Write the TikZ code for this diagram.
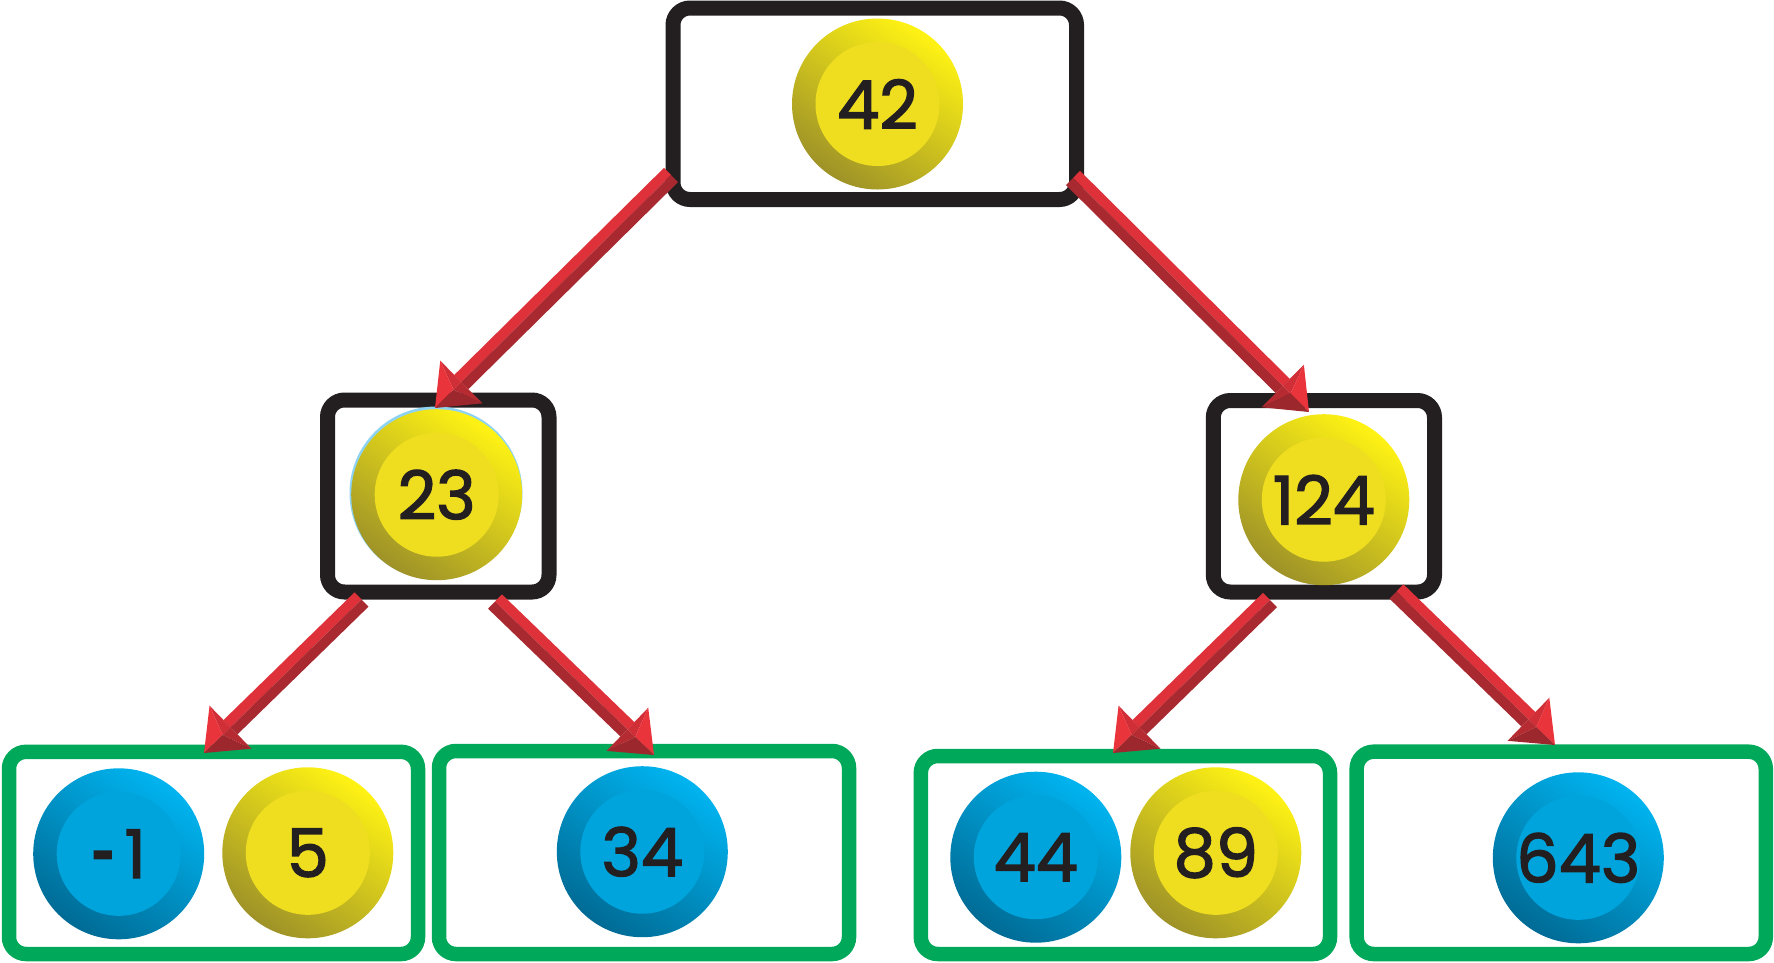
\documentclass[tikz,border=0pt]{standalone}
\usepackage{fontspec}
\setmainfont{Poppins}
\usetikzlibrary{calc}
\definecolor{boxblack}{HTML}{231F20}
\definecolor{boxgreen}{HTML}{00A859}
\definecolor{yTop}{HTML}{FFF314}
\definecolor{yBot}{HTML}{9E9228}
\definecolor{yIn}{HTML}{EFDE20}
\definecolor{bTop}{HTML}{00B4F0}
\definecolor{bBot}{HTML}{006B95}
\definecolor{bIn}{HTML}{00A4DC}
\definecolor{halo}{HTML}{8ED4F2}
\definecolor{arLight}{HTML}{DE3139}
\definecolor{arDark}{HTML}{A8292F}
\definecolor{hdA}{HTML}{EA343C}
\definecolor{hdB}{HTML}{9C272C}
\definecolor{hdC}{HTML}{D12F37}
\definecolor{hdD}{HTML}{B52B31}
\newcommand\redarrow[4]{% #1 tail, #2 tip, #3 light side angle, #4 dark side angle
  \coordinate (arN) at ($(#2)!37pt!(#1)$);
  \coordinate (arA) at ($(#2)!26pt!(#1)$);
  \fill[arLight] (#1) -- ($(#1)!10pt!#3:(#2)$) -- ($(arN)!10pt!#3:(#2)$) -- (arN) -- cycle;
  \fill[arDark] (#1) -- ($(#1)!10pt!#4:(#2)$) -- ($(arN)!10pt!#4:(#2)$) -- (arN) -- cycle;
  \fill[hdC] ($(arN)!30pt!#3:(#2)$) -- (arA) -- (arN) -- cycle;
  \fill[hdD] ($(arN)!30pt!#4:(#2)$) -- (arA) -- (arN) -- cycle;
  \fill[hdA] ($(arN)!30pt!#3:(#2)$) -- (arA) -- (#2) -- cycle;
  \fill[hdB] ($(arN)!30pt!#4:(#2)$) -- (arA) -- (#2) -- cycle;
}
\begin{document}
\begin{tikzpicture}[x=1pt,y=-1pt,
  blackbox/.style={draw=boxblack, line width=15pt, rounded corners=17pt, inner sep=0pt, fill=white},
  greenbox/.style={draw=boxgreen, line width=14.5pt, rounded corners=17pt, inner sep=0pt, fill=white},
  ballbase/.style={circle, inner sep=0pt, minimum size=171pt, text=boxblack,
    font=\fontsize{67}{67}\selectfont\addfontfeature{FakeBold=2}},
  yball/.style={ballbase, top color=yTop, bottom color=yBot, shading angle=-35,
    path picture={\fill[yIn] (path picture bounding box.center) circle (62pt);}},
  bball/.style={ballbase, top color=bTop, bottom color=bBot, shading angle=-35,
    path picture={\fill[bIn] (path picture bounding box.center) circle (62pt);}},
]
\useasboundingbox (0,0) rectangle (1774,962);
% boxes
\node[blackbox, minimum width=403.5pt, minimum height=191.5pt] (root) at (874.75,103.75) {};
\node[blackbox, minimum width=221.5pt, minimum height=192pt] (left) at (438.25,496) {};
\node[blackbox, minimum width=221.2pt, minimum height=191.5pt] (right) at (1323.9,496.25) {};
\node[greenbox, minimum width=409pt, minimum height=202.2pt] (leafa) at (213.5,852.9) {};
\node[greenbox, minimum width=410pt, minimum height=203pt] (leafb) at (644,852.5) {};
\node[greenbox, minimum width=409.2pt, minimum height=198pt] (leafc) at (1125.4,855) {};
\node[greenbox, minimum width=409.1pt, minimum height=202.3pt] (leafd) at (1561.2,852.85) {};
% balls
\node[yball] (k42) at (877.5,104) {42};
\node[circle, fill=halo, minimum size=173pt, inner sep=0pt] (h23) at (436,493) {};
\node[yball] (k23) at (436.7,494.7) {23};
\node[yball] (k124) at (1323.8,499.7) {124};
\node[bball] (km1) at (118.7,853.8) {\smash{\raisebox{-10pt}{\scalebox{0.65}[1.35]{-}}}\hspace{9pt}1};
\node[yball] (k5) at (307.8,852.8) {5};
\node[bball] (k34) at (642.3,851.7) {34};
\node[bball] (k44) at (1035.8,857.2) {44};
\node[yball] (k89) at (1215.8,852.8) {89};
\node[bball] (k643) at (1578.3,857.8) {643};
% arrow ends
\coordinate (ta) at (671,175);   \coordinate (pa) at (435,408);
\coordinate (tb) at (1073,178);  \coordinate (pb) at (1309,412);
\coordinate (tc) at (361.5,599.5); \coordinate (pc) at (204,753);
\coordinate (td) at (495,601.5); \coordinate (pd) at (654,755);
\coordinate (te) at (1270,600);  \coordinate (pe) at (1113,753);
\coordinate (tf) at (1396.5,591.5); \coordinate (pf) at (1555,745);
\redarrow{ta}{pa}{-90}{90}
\redarrow{tb}{pb}{90}{-90}
\redarrow{tc}{pc}{-90}{90}
\redarrow{td}{pd}{90}{-90}
\redarrow{te}{pe}{-90}{90}
\redarrow{tf}{pf}{90}{-90}
\end{tikzpicture}
\end{document}
